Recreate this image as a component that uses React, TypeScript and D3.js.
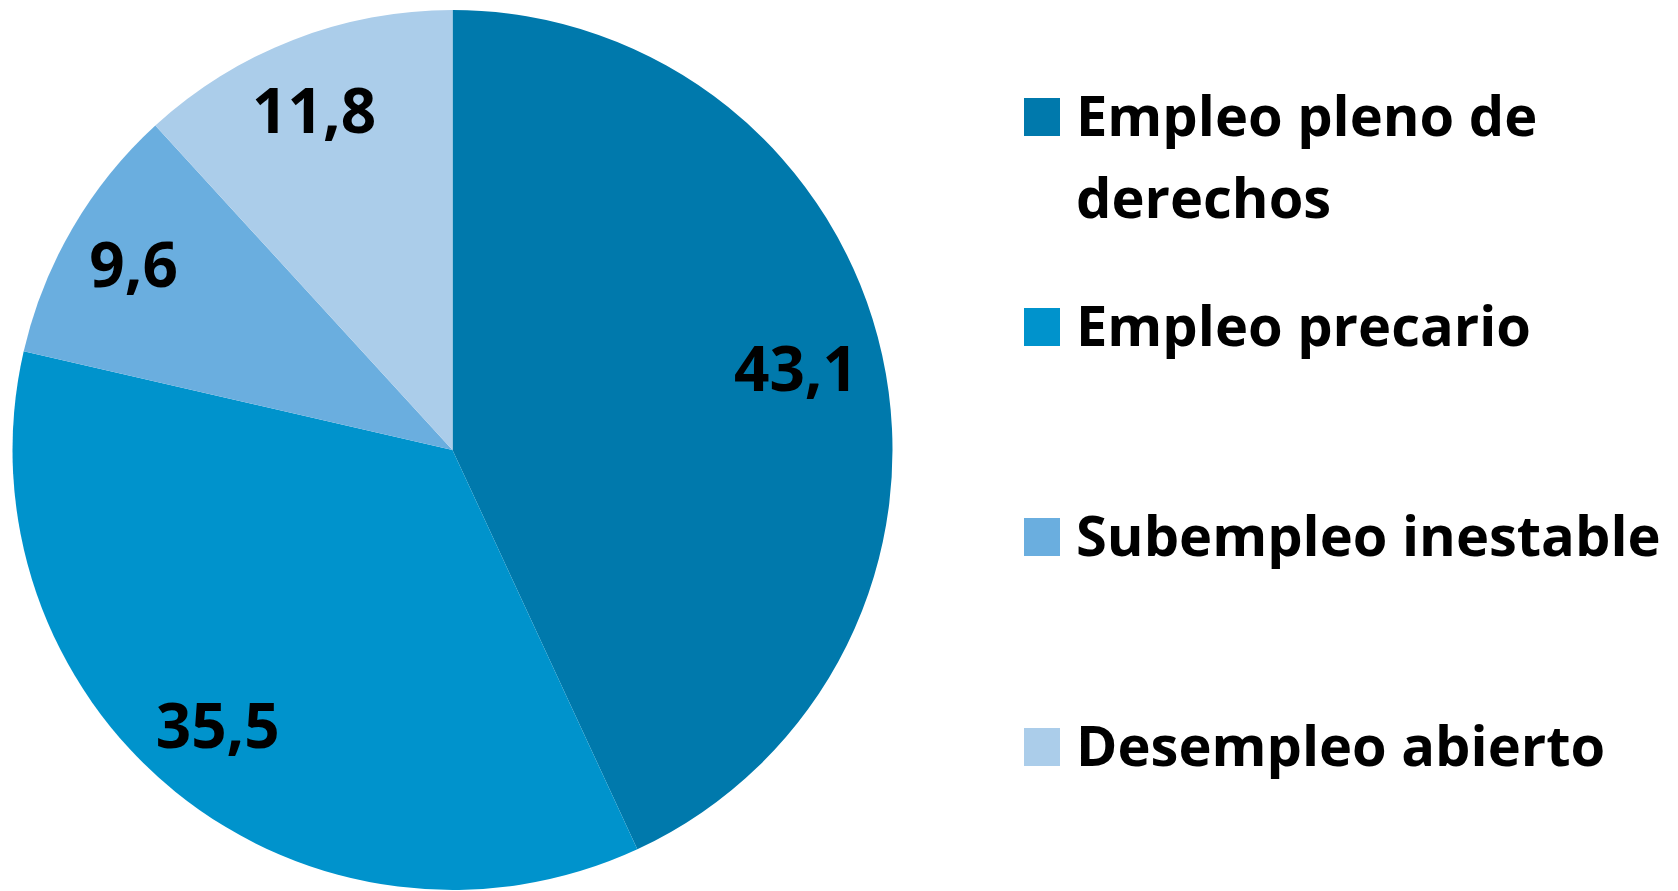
import React from "react";
import * as d3 from "d3";

const categories = ["Empleo pleno de derechos", "Empleo precario", "Subempleo inestable", "Desempleo abierto"];
const legendLines = [["Empleo pleno de", "derechos"], ["Empleo precario"], ["Subempleo inestable"], ["Desempleo abierto"]];
const values = [43.1, 35.5, 9.6, 11.8];
const valueLabels = ["43,1", "35,5", "9,6", "11,8"];
const colors = ["#0079AC", "#0093CC", "#6AAEDF", "#ABCDEA"];

const W = 1678;
const H = 891;
const CX = 452.5;
const CY = 450;
const R = 440;
const FONT = "'Open Sans', Lato, sans-serif";

export default function App() {
  const pie = d3.pie<number>().sort(null).value((d) => d)(values);
  const arc = d3.arc<d3.PieArcDatum<number>>().innerRadius(0).outerRadius(R);
  const labelArc = d3.arc<d3.PieArcDatum<number>>().innerRadius(R * 0.636).outerRadius(R);

  const legendY = d3.scalePoint<number>().domain([0, 1, 2, 3]).range([136, 766]);

  return (
    <svg width={W} height={H} style={{ position: "absolute", left: 0, top: 0, display: "block", background: "#fff" }}>
      <g transform={`translate(${CX},${CY})`}>
        {pie.map((p, i) => (
          <path key={categories[i]} d={arc(p) || ""} fill={colors[i]} />
        ))}
        {pie.map((p, i) => {
          const [x, y] = labelArc.centroid(p);
          return (
            <text key={"l" + i} x={x} y={y} dx={-8} dy="0.3em" textAnchor="middle" fontFamily={FONT} fontWeight={700} fontSize={62} fill="#000">
              {valueLabels[i]}
            </text>
          );
        })}
      </g>
      <g>
        {legendLines.map((lines, i) => {
          const base = legendY(i) as number;
          return (
            <g key={"g" + i}>
              <rect x={1024} y={base - 38} width={36} height={38} fill={colors[i]} />
              {lines.map((ln, j) => (
                <text key={j} x={1076} y={base + j * 82} fontFamily={FONT} fontWeight={700} fontSize={56} fill="#000">
                  {ln}
                </text>
              ))}
            </g>
          );
        })}
      </g>
    </svg>
  );
}
